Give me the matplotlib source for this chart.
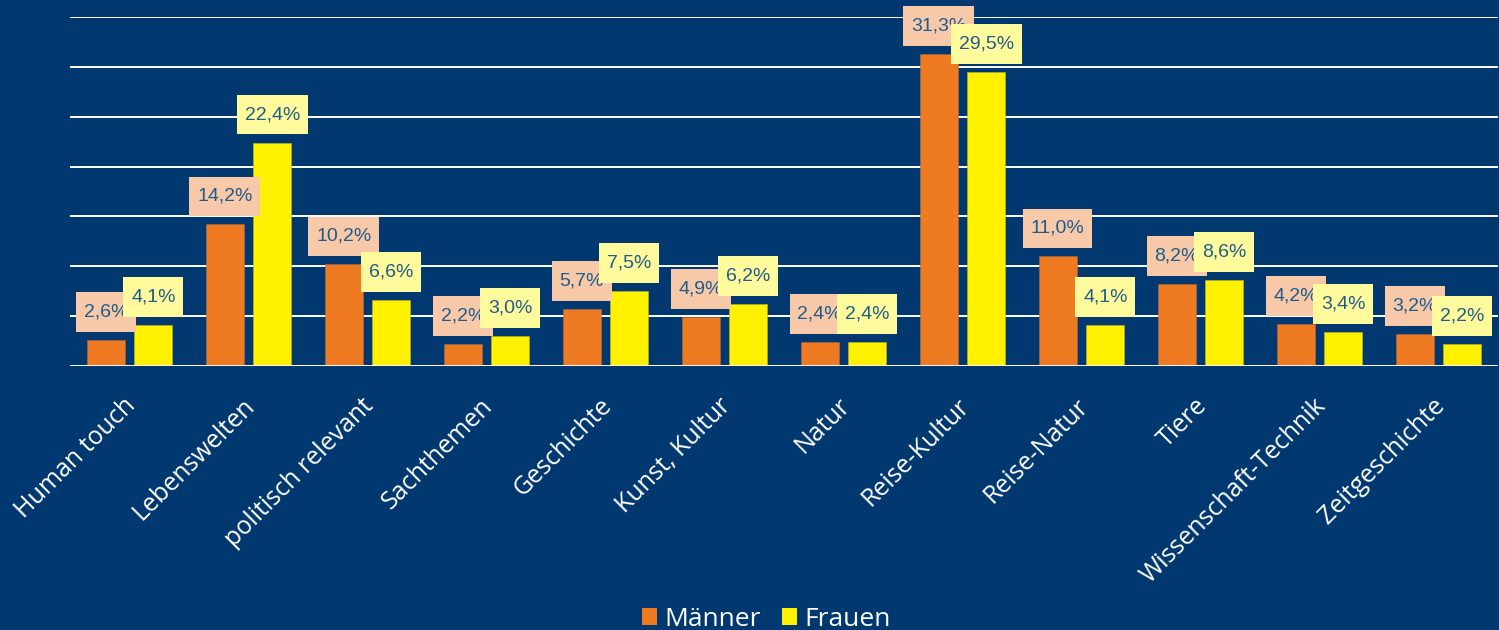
import matplotlib
matplotlib.use("Agg")
import matplotlib.pyplot as plt
import matplotlib.transforms as mtrans
import numpy as np
from matplotlib.patches import Patch

categories = ["Human touch", "Lebenswelten", "politisch relevant", "Sachthemen",
              "Geschichte", "Kunst, Kultur", "Natur", "Reise-Kultur", "Reise-Natur",
              "Tiere", "Wissenschaft-Technik", "Zeitgeschichte"]
maenner = [2.6, 14.2, 10.2, 2.2, 5.7, 4.9, 2.4, 31.3, 11.0, 8.2, 4.2, 3.2]
frauen = [4.1, 22.4, 6.6, 3.0, 7.5, 6.2, 2.4, 29.5, 4.1, 8.6, 3.4, 2.2]
series_names = ["Männer", "Frauen"]

BG = "#00386F"
C_M = "#EE7B22"
C_F = "#FFF100"
BOX_M = "#F8C9A8"
BOX_F = "#FFFA9C"
TXT = "#1F5C8B"

fig = plt.figure(figsize=(14.99, 6.30), dpi=100, facecolor=BG)
ax = fig.add_axes([70/1499, 1-366/630, 1428/1499, (366-17)/630])
ax.set_facecolor(BG)

x = np.arange(len(categories))
w = 0.32
off = 0.2
ax.bar(x - off, maenner, w, color=C_M, edgecolor="#b06a40", linewidth=0.4, zorder=3)
ax.bar(x + off, frauen, w, color=C_F, edgecolor="#c0b820", linewidth=0.4, zorder=3)

ax.set_xlim(-0.5, len(categories) - 0.5)
ax.set_ylim(0, 35)
ax.set_yticks(np.arange(0, 36, 5))
ax.yaxis.grid(True, color="white", linewidth=1.4, zorder=1)
ax.tick_params(axis="y", left=False, labelleft=False)
ax.tick_params(axis="x", bottom=False, pad=14)
for s in ax.spines.values():
    s.set_visible(False)
ax.axhline(0, color="white", linewidth=2, zorder=4)

ax.set_xticks(x)
ax.set_xticklabels(categories, rotation=45, ha="right", rotation_mode="anchor",
                   color="white", fontsize=18, family=["Open Sans", "DejaVu Sans"])
shift = mtrans.ScaledTranslation(-6/100, -3/100, fig.dpi_scale_trans)
for lab in ax.get_xticklabels():
    lab.set_transform(lab.get_transform() + shift)

def fmt(v):
    return f"{v:.1f}%".replace(".", ",")

for i in range(len(categories)):
    for val, dx, bc in ((maenner[i], -off, BOX_M), (frauen[i], off, BOX_F)):
        ax.annotate(fmt(val), xy=(x[i] + dx, val), xytext=(0, 28),
                    textcoords="offset pixels",
                    ha="center", va="center", fontsize=14, color=TXT,
                    family=["Liberation Sans", "DejaVu Sans"], zorder=6,
                    bbox=dict(boxstyle="square,pad=0.4", fc=bc, ec="none",
                              mutation_aspect=1.45))

handles = [Patch(facecolor=C_M, edgecolor="none"), Patch(facecolor=C_F, edgecolor="none")]
fig.legend(handles, series_names, loc="center", bbox_to_anchor=(766/1499, 1-619/630),
           ncol=2, frameon=False, handlelength=0.6, handleheight=0.6, handletextpad=0.25,
           columnspacing=0.8,
           prop=dict(family=["Open Sans", "DejaVu Sans"], size=19), labelcolor="white")

fig.savefig("out.png", dpi=100, facecolor=BG)
